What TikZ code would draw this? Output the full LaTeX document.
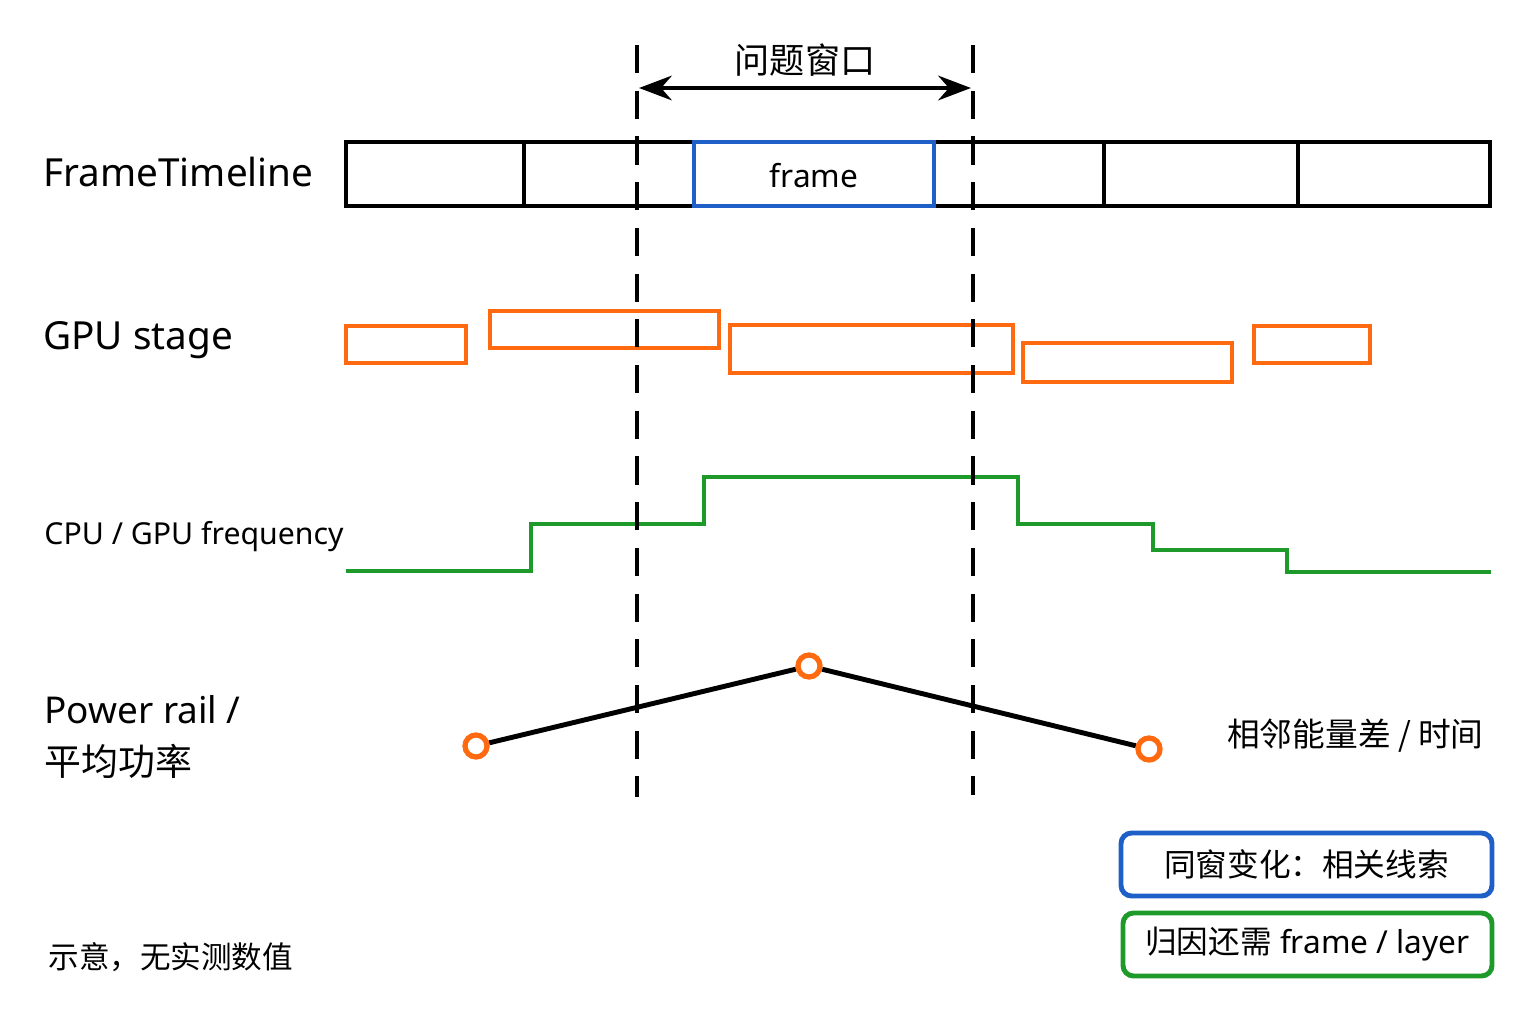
\documentclass[tikz,border=0pt]{standalone}
\usepackage{fontspec}
\setmainfont{Noto Sans}
\newfontfamily\cjk{Noto Sans CJK SC}
\usetikzlibrary{arrows.meta}
\definecolor{myblue}{HTML}{1F5FC8}
\definecolor{myorange}{HTML}{FF6A10}
\definecolor{mygreen}{HTML}{1E9A2A}
\tikzset{
  Zeile/.style={anchor=west,font=\fontsize{11}{13}\selectfont},
  Rahmen/.style={draw,line width=1.4pt},
  Stufe/.style={draw=myorange,line width=1.4pt},
  Fenster/.style={dashed,line width=1.3pt,dash pattern=on 8pt off 5pt},
  Punkt/.style={circle,draw=myorange,fill=white,line width=1.5pt,minimum size=2.2mm,inner sep=0pt}
}
\begin{document}
\begin{tikzpicture}[x=0.01cm,y=-0.01cm,>=Stealth]
\useasboundingbox (0,0) rectangle (1536,1024);

%Beschriftungen
\node[Zeile] (ft) at (31,172) {FrameTimeline};
\node[Zeile] (gs) at (31,340) {GPU stage};
\node[Zeile,font=\fontsize{8.6}{10}\selectfont] (fq) at (32,537) {CPU / GPU frequency};
\node[Zeile,align=left,font=\fontsize{10.5}{15}\selectfont] (pw) at (32,737) {Power rail /\\{\cjk 平均功率}};
\node[anchor=east,font=\cjk\fontsize{9.3}{11}\selectfont] (ed) at (1496,736) {相邻能量差 / 时间};
\node[anchor=west,font=\cjk\fontsize{8.7}{10}\selectfont] (hint) at (36,957) {示意，无实测数值};

%Fenster
\coordinate (w1o) at (637,45);  \coordinate (w1u) at (637,797);
\coordinate (w2o) at (973,45);  \coordinate (w2u) at (973,795);
\coordinate (a1) at (639,88);   \coordinate (a2) at (971,88);
\draw[<->,line width=1.4pt] (a1) -- (a2);
\node[font=\cjk\fontsize{10}{12}\selectfont] (titel) at (805,60) {问题窗口};

%FrameTimeline
\foreach \a/\b in {346/524,524/694,934/1104,1104/1298,1298/1490}
  \draw[Rahmen] (\a,142) rectangle (\b,206);
\draw[Rahmen,draw=myblue] (694,142) rectangle (934,206);
\node[font=\fontsize{9}{11}\selectfont] (fr) at (814,176) {frame};

%GPU stage
\foreach \a/\b/\c/\d in {346/326/466/363,490/311/719/348,730/325/1013/373,1023/343/1232/382,1254/326/1370/363}
  \draw[Stufe] (\a,\b) rectangle (\c,\d);

%Frequenz
\draw[mygreen,line width=1.4pt] (346,571) -- (531,571) -- (531,524) -- (704,524) -- (704,477)
  -- (1018,477) -- (1018,524) -- (1153,524) -- (1153,550) -- (1287,550) -- (1287,572) -- (1491,572);

%Leistung
\node[Punkt] (p1) at (476,746) {};
\node[Punkt] (p2) at (809,666) {};
\node[Punkt] (p3) at (1149,749) {};
\draw[line width=1.4pt] (p1) -- (p2) -- (p3);

\draw[Fenster] (w1o) -- (w1u);
\draw[Fenster] (w2o) -- (w2u);

%Legende
\draw[Rahmen,draw=myblue,rounded corners=3pt] (1121,833) rectangle node[font=\cjk\fontsize{9}{11}\selectfont]{同窗变化：相关线索} (1492,896);
\draw[Rahmen,draw=mygreen,rounded corners=3pt] (1123,913) rectangle node[font=\fontsize{9}{11}\selectfont]{{\cjk 归因还需} frame / layer} (1492,976);
\end{tikzpicture}
\end{document}
